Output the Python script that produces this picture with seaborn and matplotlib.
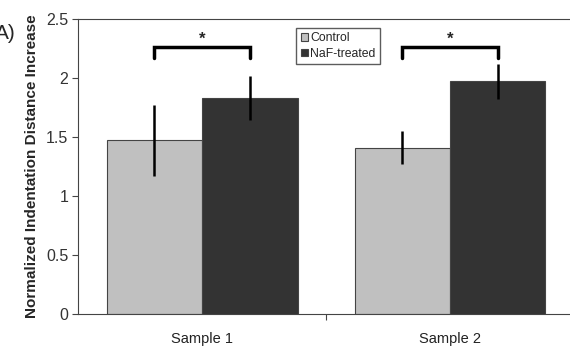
import pandas as pd
import numpy as np
import matplotlib
matplotlib.use("Agg")
import matplotlib.pyplot as plt
import seaborn as sns

# Data
samples = ["Sample 1", "Sample 2"]
groups = ["Control", "NaF-treated"]
control_mean = [1.47, 1.41]
control_err = [0.30, 0.14]
naf_mean = [1.83, 1.97]
naf_err = [0.19, 0.15]

df = pd.DataFrame({
    "Sample": samples * 2,
    "Group": [groups[0]] * 2 + [groups[1]] * 2,
    "Value": control_mean + naf_mean,
    "Err": control_err + naf_err,
})

sns.set_style("white")
plt.rcParams['font.family'] = ['Liberation Sans', 'DejaVu Sans']

fig = plt.figure(figsize=(5.7, 3.5), dpi=100)
ax = fig.add_axes([0.137, 0.103, 0.87, 0.843])

palette = {"Control": "#c0c0c0", "NaF-treated": "#333333"}
sns.barplot(data=df, x="Sample", y="Value", hue="Group", palette=palette,
            width=0.77, edgecolor="#444444", linewidth=0.8, errorbar=None,
            saturation=1, ax=ax)

# bar centers, grabbed before adding errorbars
bar_conts = list(ax.containers)
centers = [[p.get_x() + p.get_width() / 2 for p in c.patches] for c in bar_conts]

# error bars at bar centers
for xs, grp in zip(centers, groups):
    sub = df[df["Group"] == grp]
    ax.errorbar(xs, sub["Value"], yerr=sub["Err"], fmt="none",
                ecolor="black", elinewidth=1.8, capsize=0)

# significance brackets
for i in range(len(samples)):
    x1, x2 = centers[0][i], centers[1][i]
    y = 2.26
    ax.plot([x1, x1, x2, x2], [2.17, y, y, 2.17], color="black", lw=2.5,
            solid_joinstyle="miter")
    ax.text((x1 + x2) / 2, y + 0.005, "*", ha="center", va="bottom",
            fontsize=12, fontweight="bold")

ax.set_ylim(0, 2.5)
ax.set_xlim(-0.5, 1.5)
ax.set_yticks([0, 0.5, 1, 1.5, 2, 2.5])
ax.set_yticklabels(["0", "0.5", "1", "1.5", "2", "2.5"])
ax.set_xticks([0, 1])
ax.set_xticks([0.5], minor=True)
ax.tick_params(axis="x", which="major", length=0, labelsize=10.5, pad=13,
               labelcolor="#222222")
ax.tick_params(axis="x", which="minor", length=4, width=0.8, direction="out",
               bottom=True, color="#444444")
ax.tick_params(axis="y", length=4, width=0.8, direction="out", left=True,
               labelsize=11.5, color="#444444", pad=3, labelcolor="#333333")

ax.set_xlabel("")
ax.set_ylabel("Normalized Indentation Distance Increase", fontsize=11,
              fontweight="bold", labelpad=5)

for s in ["left", "bottom", "top"]:
    ax.spines[s].set_color("#444444")
    ax.spines[s].set_linewidth(0.8)
ax.spines["right"].set_visible(False)

leg = ax.legend(loc="upper left", bbox_to_anchor=(0.44, 0.97), fontsize=8.8,
                frameon=True, fancybox=False, handlelength=0.6,
                handleheight=0.6, handletextpad=0.2, borderpad=0.35,
                labelspacing=0.3, borderaxespad=0)
leg.get_frame().set_edgecolor("#333333")
leg.get_frame().set_linewidth(1.0)

fig.text(-0.008, 0.905, "A)", fontsize=15, ha="left", va="center")

fig.savefig("out.png", dpi=100)
